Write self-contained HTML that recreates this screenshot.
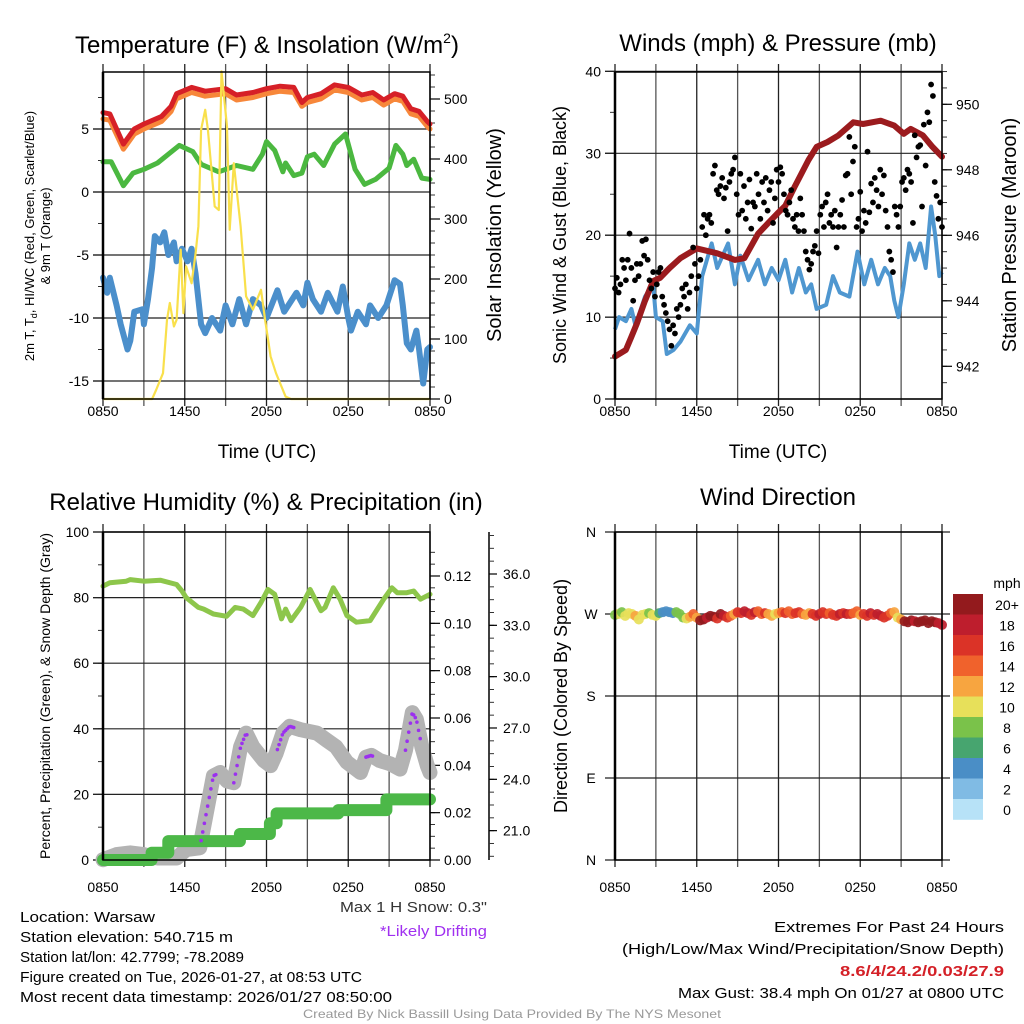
<!DOCTYPE html>
<html><head><meta charset="utf-8"><style>
html,body{margin:0;padding:0;background:#fff;}
svg{display:block;font-family:"Liberation Sans",Arial,sans-serif;}
</style></head><body>
<svg id="chart" width="1024" height="1024" viewBox="0 0 1024 1024" xmlns="http://www.w3.org/2000/svg">
<rect width="1024" height="1024" fill="#fff"/>
<g id="titles" font-size="24" text-anchor="middle" fill="#000">
<text x="267" y="53">Temperature (F) &amp; Insolation (W/m<tspan font-size="14" dy="-10">2</tspan><tspan dy="10">)</tspan></text>
<text x="778" y="51">Winds (mph) &amp; Pressure (mb)</text>
<text x="266" y="510">Relative Humidity (%) &amp; Precipitation (in)</text>
<text x="778" y="505">Wind Direction</text>
</g>
<g font-size="19" text-anchor="middle">
<text x="267" y="458">Time (UTC)</text>
<text x="778" y="458">Time (UTC)</text>
<text transform="translate(34,236) rotate(-90)" font-size="13">2m T, T<tspan font-size="9" dy="3">d</tspan><tspan dy="-3">, HI/WC (Red, Green, Scarlet/Blue)</tspan></text>
<text transform="translate(50,236) rotate(-90)" font-size="13">&amp; 9m T (Orange)</text>
<text transform="translate(501,235) rotate(-90)" font-size="20">Solar Insolation (Yellow)</text>
<text transform="translate(566,235) rotate(-90)" font-size="18">Sonic Wind &amp; Gust (Blue, Black)</text>
<text transform="translate(1016,235) rotate(-90)" font-size="20">Station Pressure (Maroon)</text>
<text transform="translate(50,696) rotate(-90)" font-size="14">Percent, Precipitation (Green), &amp; Snow Depth (Gray)</text>
<text transform="translate(567,696) rotate(-90)" font-size="18">Direction (Colored By Speed)</text>
</g>
<g font-size="15" fill="#000">
<text x="20" y="922" textLength="135" lengthAdjust="spacingAndGlyphs">Location: Warsaw</text>
<text x="20" y="942" textLength="213" lengthAdjust="spacingAndGlyphs">Station elevation: 540.715 m</text>
<text x="20" y="962" textLength="224" lengthAdjust="spacingAndGlyphs">Station lat/lon: 42.7799; -78.2089</text>
<text x="20" y="982" textLength="342" lengthAdjust="spacingAndGlyphs">Figure created on Tue, 2026-01-27, at 08:53 UTC</text>
<text x="20" y="1002" textLength="372" lengthAdjust="spacingAndGlyphs">Most recent data timestamp: 2026/01/27 08:50:00</text>
<text x="340" y="912" fill="#333" textLength="147" lengthAdjust="spacingAndGlyphs">Max 1 H Snow: 0.3"</text>
<text x="380" y="936" fill="#a030f0" textLength="107" lengthAdjust="spacingAndGlyphs">*Likely Drifting</text>
<text x="774" y="932" textLength="230" lengthAdjust="spacingAndGlyphs">Extremes For Past 24 Hours</text>
<text x="622" y="954" textLength="382" lengthAdjust="spacingAndGlyphs">(High/Low/Max Wind/Precipitation/Snow Depth)</text>
<text x="840" y="976" fill="#d42027" font-weight="bold" textLength="164" lengthAdjust="spacingAndGlyphs">8.6/4/24.2/0.03/27.9</text>
<text x="678" y="998" textLength="326" lengthAdjust="spacingAndGlyphs">Max Gust: 38.4 mph On 01/27 at 0800 UTC</text>
<text x="303" y="1018" font-size="12" fill="#999" textLength="418" lengthAdjust="spacingAndGlyphs">Created By Nick Bassill Using Data Provided By The NYS Mesonet</text>
</g>
</svg>
<script>
// ---------- DATA ----------
const xTickLabels = ["0850","1450","2050","0250","0850"];
// Panel 1: temperature (F)
const tempHours = [0,0.5,1.5,2.3,3,4.3,5,5.4,6.5,7.5,9,9.8,11,12,13,14,14.6,15,16,17,18,19,19.8,20.6,21.4,22,22.6,23.2,23.8,24];
const tempRed   = [6.3,6.2,3.8,5.0,5.4,6.0,6.8,7.8,8.3,8.0,8.2,7.7,7.9,8.2,8.4,8.3,7.1,7.5,7.8,8.5,8.3,7.7,7.9,7.3,7.8,7.6,6.6,6.4,5.6,5.4];
const temp9m    = [5.8,5.7,3.4,4.6,5.0,5.6,6.4,7.4,7.9,7.6,7.8,7.3,7.5,7.8,8.0,7.9,6.8,7.1,7.4,8.1,7.9,7.3,7.5,6.9,7.4,7.2,6.2,6.0,5.2,5.0];
const dewHours  = [0,0.6,1.5,2.2,3,4,4.8,5.6,6.6,7.2,8.5,9.8,11,11.7,12,12.6,13.2,13.4,14,14.6,15,15.5,16.2,17,17.8,18.5,19.2,20,21,21.5,22,22.3,22.8,23.4,24];
const dewPoint  = [2.4,2.4,0.5,1.5,1.8,2.3,3.0,3.7,3.2,2.2,1.6,2.1,1.8,3.0,4.0,3.3,1.6,2.3,1.3,1.5,2.8,3.0,2.1,3.8,4.6,1.8,0.6,1.0,1.9,3.7,3.0,2.1,2.6,1.1,1.0];
const wcHours   = [0,0.3,0.5,1,1.3,1.8,2,2.3,2.9,3,3.3,3.6,3.8,4.2,4.5,4.8,5.2,5.4,5.8,6.2,6.5,6.8,7.2,7.5,8,8.6,9,9.5,10,10.5,11,11.6,12,12.8,13.3,14.2,14.7,15,15.4,16,16.5,17.2,17.6,18,18.2,18.7,19.3,19.6,20.2,20.8,21.4,21.8,22,22.3,22.6,23,23.2,23.5,23.8,24];
const windChill = [-6.8,-8.0,-6.8,-9.0,-10.5,-12.5,-11.8,-9.5,-9.3,-10.5,-8.5,-6.0,-3.5,-4.0,-3.2,-5.0,-4.0,-5.5,-4.5,-5.5,-4.5,-6.5,-10.5,-11.2,-10.0,-11.0,-9.0,-10.5,-8.5,-10.5,-8.5,-9.0,-10.0,-7.8,-9.5,-8.0,-9.0,-7.2,-8.5,-9.5,-8.0,-9.5,-7.5,-10.0,-11.0,-9.5,-10.5,-9.0,-10.0,-9.0,-7.0,-7.3,-9.0,-12.0,-12.5,-11.0,-12.5,-15.2,-12.5,-12.3];
const solarHours = [0,3.6,3.9,4.4,4.7,4.9,5.2,5.4,5.7,5.9,6.1,6.5,6.8,7.0,7.2,7.5,7.7,8.2,8.5,8.7,9.1,9.3,9.6,10.1,10.5,11.0,11.6,11.9,12.3,12.7,13.4,13.8,24];
const solar      = [0,0,15,43,132,160,121,132,249,143,221,193,243,288,449,482,449,321,315,546,454,282,393,288,171,149,182,132,71,43,4,0,0];
// Panel 2: winds & pressure
const presHours = [0,0.8,1.2,1.6,2.2,2.8,3.3,4,4.8,5.6,6.0,7.5,8.8,9.5,10.5,11.3,12,12.5,13.2,14.2,14.8,15.6,16.4,17.5,18.2,19.5,20.5,21.2,21.7,22.6,23.3,24];
const pressure  = [942.3,942.5,942.9,943.3,944.0,944.6,944.7,945.0,945.3,945.5,945.6,945.45,945.25,945.3,946.05,946.4,946.7,946.9,947.5,948.3,948.7,948.85,949.05,949.45,949.4,949.5,949.35,949.1,949.25,949.05,948.7,948.4];
const sonicHours = [0,0.3,0.8,1.2,1.5,2.2,2.8,3.0,3.5,3.8,4.3,4.8,5.5,6.0,6.4,7.1,7.5,8.3,8.8,9.2,9.8,10.5,11,11.5,12,12.5,13,13.5,14,14.4,14.8,15.5,16,16.5,17.2,17.8,18.3,18.8,19.3,19.8,20.2,20.5,20.8,21.2,21.6,22,22.4,22.8,23.2,23.5,23.8,24];
const sonicWind  = [8.5,10,9.5,11,9,12.5,14,10,9.5,5.5,6,7,9,8,15,19,16,19,14,17.5,14.5,17,14,16,14.5,17,13,16,13,14,11,11.5,15,13,12.5,18,14,17,14,16,15,12,10,14,19,17,19,16,23.5,20,15,15.5];
const gusts = [13.5,14.8,13,14,17,16,14.5,17,20.2,16,12,14.5,16.5,15,16.5,19.3,17.5,19.5,17,14.5,13.5,15.5,12.5,14,15.5,16,12.5,11.5,10.5,9.5,8.5,6.5,9,8,11,10,11.5,13.5,12.5,14,11,13,15,18.5,16.5,13.5,15,17,21,22.5,20,22,22.5,21.5,27.5,28.5,25.5,25,26,27,24.5,25.8,20.5,26.5,27.5,28,29.5,25,22.5,27.5,23,26,22,24,26.8,20.8,24,23.5,27.5,25,22,26.5,24,27,23,25.5,26.5,21.5,24.5,28,26.5,28.3,27.5,25,23,22.5,24,25.5,22,21,22.5,20.5,24.5,22.5,20.5,18,17,15.8,16.5,18,18.7,20.5,17.8,22.5,23.5,21,24,25,21.5,22.5,21,23,18.5,21,22.5,24.3,21,27.3,27.5,32,25,29,30.8,21,22,25.3,20.5,23,21.5,30.2,22.8,26.3,24,27,25.5,23.5,28,25,27.3,23,21,18,17,15.5,23.5,22.5,21,23.5,26.5,27,25.5,28,27.5,26.5,21.5,32.2,29.5,30.8,31,23.5,33.5,28.5,35,33.8,38.4,37,26.5,24.8,22,24,21];
// Panel 3: humidity, precip, snow depth
const rhHours = [0,0.5,1.7,2,3,4.2,5.4,5.8,6.1,7.0,7.4,8.1,9.07,9.7,10.3,11,11.6,12.1,12.6,13.1,13.4,13.8,14.5,15.2,16.0,16.3,16.9,17.4,17.9,18.6,19.6,20.6,21.2,21.6,22.3,22.8,23.3,24];
const humidity = [83.5,84.5,85,85.5,85,85.3,84,82,80,77,76.5,75,74.3,77,76.5,74.5,78.5,82.5,81,73.5,76.5,73,77,82.5,76,77,83,79.5,74.5,72.5,73,79.5,83,81.5,81.5,82,79.5,81];
const precipHours = [0,3.57,3.57,4.79,4.79,10.05,10.05,12.25,12.25,12.74,12.74,17.27,17.27,20.8,20.8,24];
const precip      = [0,0,0.0031,0.0031,0.008,0.008,0.011,0.011,0.0155,0.0155,0.0197,0.0197,0.0211,0.0211,0.0256,0.0256];
const snowHours = [0,1,2,3,4,5.4,6.1,7.1,8.1,8.6,9.1,9.6,10.1,10.5,11,11.8,12.3,12.7,13.2,13.7,14.5,15.7,16.4,17.1,17.9,18.9,19.3,19.7,20.3,21.1,21.8,22.2,22.7,23.0,23.4,23.8,24];
const snowDepth = [19.3,19.6,19.7,19.6,19.4,19.4,19.9,20.0,24.2,24.4,23.9,23.8,25.9,26.7,25.9,25.1,24.8,25.5,26.7,27.1,26.9,26.7,26.3,25.9,25.0,24.4,25.3,25.4,25.1,24.9,24.6,25.7,27.9,27.5,25.9,24.8,24.4];
const driftStart = [7.2,9.6,12.8,19.3,22.2];
const driftEnd   = [8.3,10.6,14.0,19.8,23.3];
// Panel 4: wind direction
const dirValues = [269,270,272,268,271,270,268,264,269,270,271,269,268,271,272,273,272,271,272,270,266,265,267,270,266,263,264,266,268,267,265,270,268,266,268,270,272,271,273,271,269,272,273,270,271,270,268,270,271,272,271,273,270,271,272,270,269,271,270,268,270,272,270,271,269,268,270,271,270,270,271,273,269,270,268,271,269,270,268,266,268,271,272,266,264,262,261,263,262,261,262,263,260,262,261,260,258];
const dirSpeeds = [9,10,8,11,10,11,13,10,11,11,9,10,11,7,5,4,5,5,8,9,8,11,13,14,13,20,21,19,20,21,17,20,19,16,15,13,16,17,18,19,16,18,15,14,16,13,12,11,13,15,16,14,15,17,16,15,12,13,16,17,19,17,16,15,17,16,19,17,18,16,15,14,13,17,16,18,17,19,18,16,17,14,12,11,13,20,21,20,19,20,21,22,20,21,20,19,18];
const dirLabels = ["N","W","S","E","N"];
const speedBins = ["0","2","4","6","8","10","12","14","16","18","20+"];
const speedColors = ["#b7e2f7","#80bbe4","#4a8ec6","#47a56f","#7ac24a","#e7e05a","#f7a540","#f0622c","#db3327","#be1e2d","#931a1d"];

// ---------- HELPERS ----------
const svg = document.getElementById('chart');
const NS = 'http://www.w3.org/2000/svg';
function mk(tag, attrs, parent){const e=document.createElementNS(NS,tag);for(const k in attrs)e.setAttribute(k,attrs[k]);(parent||svg).appendChild(e);return e;}
function pathFrom(xs, ys, fx, fy){return xs.map((h,i)=>(i?'L':'M')+fx(h).toFixed(1)+','+fy(ys[i]).toFixed(1)).join('');}
function interp(xs, ys, t){for(let i=1;i<xs.length;i++){if(t<=xs[i]){const f=(t-xs[i-1])/((xs[i]-xs[i-1])||1);return ys[i-1]+f*(ys[i]-ys[i-1]);}}return ys[ys.length-1];}

// Panel frame: grid, ticks, labels
function frame(name, L, T, R, B, xLabY){
  const g = mk('g',{});
  
  
  for(let k=0;k<=8;k++){
    const x = L + k*(R-L)/8;
    const ln = mk('line',{x1:x,y1:T-8,x2:x,y2:B+7,stroke:(k%2?'#555':'#222'),'stroke-width':1.3},g);
    
    
  }
  for(let k=0;k<5;k++){
    const t = mk('text',{x:L+k*(R-L)/4,y:xLabY,'font-size':14,'text-anchor':'middle'},g);
    t.textContent = xTickLabels[k];
    
    
  }
  return g;
}
function border(name,L,T,R,B){
  const r = mk('rect',{x:L,y:T,width:R-L,height:B-T,fill:'none',stroke:'#000','stroke-width':1.5});
  
  
  mk('line',{x1:L,y1:T,x2:L,y2:B,stroke:'#000','stroke-width':2.5});
}
function yAxis(name, x, side, lo, hi, major, minor, fy, fmt, grid, L, R, majLen){
  const g = mk('g',{});
  
  
  const dir = side==='left'?-1:1;
  const eps = 1e-9;
  for(let v=Math.ceil(lo/minor-eps)*minor; v<=hi+eps; v+=minor){
    const y = fy(v);
    mk('line',{x1:x,y1:y,x2:x+dir*5,y2:y,stroke:'#333','stroke-width':1},g);
  }
  for(let v=Math.ceil(lo/major-eps)*major; v<=hi+eps; v+=major){
    const y = fy(v);
    mk('line',{x1:x,y1:y,x2:x+dir*(majLen||10),y2:y,stroke:'#000','stroke-width':1.2},g);
    if(grid){mk('line',{x1:L-10,y1:y,x2:R,y2:y,stroke:'#222','stroke-width':1.2},g);}
    const t = mk('text',{x:x+dir*14,y:y+5,'font-size':14,'text-anchor':side==='left'?'end':'start'},g);
    t.textContent = fmt(v);
    
    
  }
}

// ---------- PANEL 1 ----------
const p1x = h => 103 + h*327/24;
const p1yT = v => 192 - v*12.6;
const p1yS = w => 399 - w*0.6;
frame('temp',103,72,430,399,416);
yAxis('temp-left-axis',103,'left',-16.5,9.5,5,2.5,p1yT,v=>String(Math.round(v)),true,103,430);
yAxis('insolation-right-axis',430,'right',0,550,100,20,p1yS,v=>String(Math.round(v)),false);
let e;
e = mk('path',{d:pathFrom(wcHours,windChill,p1x,p1yT),fill:'none',stroke:'#4b8fcb','stroke-width':6,'stroke-linejoin':'round','stroke-linecap':'round'});


e = mk('path',{d:pathFrom(dewHours,dewPoint,p1x,p1yT),fill:'none',stroke:'#4bb840','stroke-width':5,'stroke-linejoin':'round','stroke-linecap':'round'});


e = mk('path',{d:pathFrom(tempHours,temp9m,p1x,p1yT),fill:'none',stroke:'#f7873a','stroke-width':5,'stroke-linejoin':'round','stroke-linecap':'round'});


e = mk('path',{d:pathFrom(tempHours,tempRed,p1x,p1yT),fill:'none',stroke:'#d62027','stroke-width':5,'stroke-linejoin':'round','stroke-linecap':'round'});


e = mk('path',{d:pathFrom(solarHours,solar,p1x,p1yS),fill:'none',stroke:'#f9e04c','stroke-width':2.2,'stroke-linejoin':'round'});


border('temp',103,72,430,399);

// ---------- PANEL 2 ----------
const p2x = h => 615 + h*327/24;
const p2yW = v => 399 - v*8.19;
const p2yP = p => 366.3 - (p-942)*32.75;
frame('winds',615,72,942,399,416);
yAxis('wind-left-axis',615,'left',0,40,10,5,p2yW,v=>String(Math.round(v)),true,615,942);
yAxis('pressure-right-axis',942,'right',941.1,951,2,0.5,p2yP,v=>String(Math.round(v)),false);
e = mk('path',{d:pathFrom(sonicHours,sonicWind,p2x,p2yW),fill:'none',stroke:'#4f97d0','stroke-width':4,'stroke-linejoin':'round'});


e = mk('path',{d:pathFrom(presHours,pressure,p2x,p2yP),fill:'none',stroke:'#9b1b1e','stroke-width':6,'stroke-linejoin':'round','stroke-linecap':'round'});


const gg = mk('g',{});


gusts.forEach((v,i)=>{
  const c = mk('circle',{cx:p2x(i*24/(gusts.length-1)),cy:p2yW(v),r:2.9,fill:'#000'},gg);
  
  
});
border('winds',615,72,942,399);

// ---------- PANEL 3 ----------
const p3x = h => 103 + h*327/24;
const p3yPct = v => 860 - v*3.28;
const p3yPr = v => 860 - v*2366.7;
const p3ySn = v => 574 - (v-36)*17.11;
frame('humidity',103,532,430,860,892);
yAxis('percent-left-axis',103,'left',0,100,20,10,p3yPct,v=>String(Math.round(v)),true,103,430);
yAxis('precip-right-axis',430,'right',0,0.13,0.02,0.005,p3yPr,v=>v.toFixed(2),false);
mk('line',{x1:489,y1:532,x2:489,y2:860,stroke:'#000','stroke-width':1.5});
yAxis('snow-right-axis',489,'right',19.3,38.6,3,0.75,p3ySn,v=>v.toFixed(1),false,0,0,8);
e = mk('path',{d:pathFrom(snowHours,snowDepth,p3x,p3ySn),fill:'none',stroke:'#b3b3b3','stroke-width':15,'stroke-linejoin':'round','stroke-linecap':'round'});


e = mk('path',{d:pathFrom(precipHours,precip,p3x,p3yPr),fill:'none',stroke:'#4cb848','stroke-width':12,'stroke-linejoin':'round','stroke-linecap':'round'});


const dg = mk('g',{});


driftStart.forEach((s,k)=>{
  for(let t=s;t<=driftEnd[k]+1e-6;t+=0.12){
    const c = mk('circle',{cx:p3x(t),cy:p3ySn(interp(snowHours,snowDepth,t)),r:1.8,fill:'#9b30ef'},dg);
    
    
  }
});
e = mk('path',{d:pathFrom(rhHours,humidity,p3x,p3yPct),fill:'none',stroke:'#8dc64b','stroke-width':5,'stroke-linejoin':'round','stroke-linecap':'round'});


border('humidity',103,532,430,860);

// ---------- PANEL 4 ----------
const p4x = h => 615 + h*327/24;
const p4yD = d => 860 - d*328/360;
frame('direction',615,532,942,860,892);
dirLabels.forEach((lab,k)=>{
  const y = 532 + k*82;
  mk('line',{x1:605,y1:y,x2:950,y2:y,stroke:'#222','stroke-width':1.2});
  const t = mk('text',{x:591,y:y+5,'font-size':14,'text-anchor':'middle'});
  t.textContent = lab;
  
  
});
const wg = mk('g',{});


dirValues.forEach((d,i)=>{
  const bin = Math.min(10, Math.floor(dirSpeeds[i]/2));
  const c = mk('circle',{cx:p4x(i*24/(dirValues.length-1)),cy:p4yD(d),r:5,fill:speedColors[bin],'fill-opacity':0.92},wg);
  
  
});
border('direction',615,532,942,860);
// colorbar
const cb = mk('g',{});


const cbt = mk('text',{x:1007,y:588,'font-size':14,'text-anchor':'middle'},cb);
cbt.textContent = 'mph';


speedBins.forEach((lab,k)=>{
  const idx = 10-k;
  const y = 594 + k*20.5;
  const r = mk('rect',{x:953,y:y,width:30,height:20.8,fill:speedColors[idx]},cb);
  
  
  const t = mk('text',{x:1007,y:y+16,'font-size':14,'text-anchor':'middle'},cb);
  t.textContent = speedBins[idx];
  
  
});
</script>
</body></html>
